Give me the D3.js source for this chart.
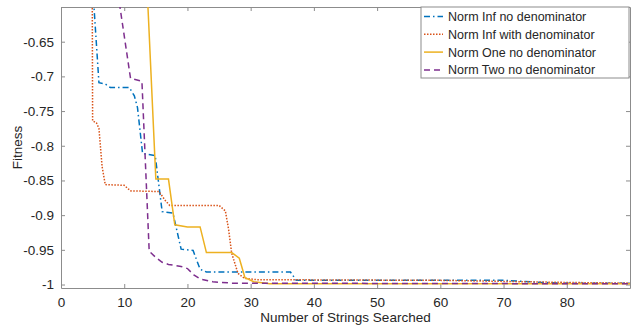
<!DOCTYPE html>
<html>
<head>
<meta charset="utf-8">
<script src="https://cdn.jsdelivr.net/npm/d3@7"></script>
<style>
  body { margin: 0; background: #fff; }
  text { font-family: "Liberation Sans", Arial, sans-serif; fill: #262626; }
</style>
</head>
<body>
<div id="chart"></div>
<script>
// series, each one [strings searched, fitness]
const normInfNoDen = [[5, -0.57], [6, -0.709], [7, -0.711], [7.8, -0.716], [10.8, -0.716], [11.6, -0.728], [12.1, -0.745],
  [12.9, -0.811], [14.9, -0.814], [16, -0.895], [17.7, -0.897], [19, -0.949], [20.9, -0.951], [22, -0.978], [23, -0.982],
  [36.3, -0.982], [37.2, -0.994], [70, -0.994], [76, -0.997], [80, -0.998], [90, -0.998]];
const normInfWithDen = [[4.9, -0.45], [5, -0.764], [5.6, -0.767], [6, -0.775], [6.5, -0.83], [7, -0.856], [10, -0.857],
  [11, -0.865], [15.5, -0.866], [16.5, -0.879], [17.2, -0.886], [25, -0.886], [26, -0.894], [26.5, -0.92], [27, -0.955],
  [28, -0.984], [29, -0.991], [31, -0.993], [60, -0.994], [80, -0.997], [90, -0.998]];
const normOneNoDen = [[13, -0.45], [15, -0.848], [17, -0.848], [18, -0.914], [20, -0.917], [22, -0.917], [23, -0.954],
  [27, -0.954], [28.2, -0.962], [29.1, -0.99], [30.5, -0.996], [33, -0.999], [90, -0.999]];
const normTwoNoDen = [[9, -0.58], [11, -0.703], [12.8, -0.707], [13.95, -0.952], [15, -0.961], [16, -0.968], [17, -0.971],
  [19, -0.974], [20, -0.977], [21, -0.986], [22, -0.992], [24, -0.996], [27, -0.998], [90, -0.999]];

const seriesNames = ["Norm Inf no denominator", "Norm Inf with denominator", "Norm One no denominator", "Norm Two no denominator"];
const seriesColors = ["#0072BD", "#D95319", "#EDB120", "#7E2F8E"];
const seriesDash = ["6,3,1.5,3", "1.5,1.5", null, "6,4"];
const allSeries = [normInfNoDen, normInfWithDen, normOneNoDen, normTwoNoDen];

const xTicks = [0, 10, 20, 30, 40, 50, 60, 70, 80];
const yTicks = [-1, -0.95, -0.9, -0.85, -0.8, -0.75, -0.7, -0.65];

const width = 632, height = 329;
const margin = {top: 7, right: 2, bottom: 41, left: 61};
const iw = width - margin.left - margin.right;
const ih = height - margin.top - margin.bottom;

const svg = d3.select('#chart').append('svg')
    .attr('width', width)
    .attr('height', height);

const g = svg.append('g').attr('transform', `translate(${margin.left},${margin.top})`);

const x = d3.scaleLinear().domain([0, 90]).range([0, iw]);
const y = d3.scaleLinear().domain([-1.005, -0.6]).range([ih, 0]);

svg.append('defs').append('clipPath').attr('id', 'clip')
  .append('rect').attr('width', iw).attr('height', ih);

const fmt = d => String(d);

// axes, ticks inward like matlab
const axB = g.append('g').attr('transform', `translate(0,${ih})`)
  .call(d3.axisBottom(x).tickValues(xTicks).tickFormat(fmt).tickSizeInner(-4).tickSizeOuter(0).tickPadding(9));
const axT = g.append('g')
  .call(d3.axisTop(x).tickValues(xTicks).tickFormat('').tickSizeInner(-4).tickSizeOuter(0));
const axL = g.append('g')
  .call(d3.axisLeft(y).tickValues(yTicks).tickFormat(fmt).tickSizeInner(-4).tickSizeOuter(0).tickPadding(7));
const axR = g.append('g').attr('transform', `translate(${iw},0)`)
  .call(d3.axisRight(y).tickValues(yTicks).tickFormat('').tickSizeInner(-4).tickSizeOuter(0));

[axB, axT, axL, axR].forEach(a => {
  a.select('.domain').attr('stroke', '#8c8c8c');
  a.selectAll('.tick line').attr('stroke', '#8c8c8c');
  a.selectAll('text').style('font-size', '13.5px').attr('fill', '#262626')
    .style('font-family', '"Liberation Sans", Arial, sans-serif');
});

const line = d3.line().x(d => x(d[0])).y(d => y(d[1]));

g.append('g').attr('clip-path', 'url(#clip)')
  .selectAll('path').data(allSeries).join('path')
    .attr('d', line)
    .attr('fill', 'none')
    .attr('stroke', (d, i) => seriesColors[i])
    .attr('stroke-width', 1.5)
    .attr('stroke-dasharray', (d, i) => seriesDash[i]);

// axis labels
svg.append('text')
  .attr('x', margin.left + iw / 2).attr('y', 322)
  .attr('text-anchor', 'middle')
  .style('font-size', '13.5px')
  .text('Number of Strings Searched');

svg.append('text')
  .attr('transform', `translate(22,${margin.top + ih / 2}) rotate(-90)`)
  .attr('text-anchor', 'middle')
  .style('font-size', '13.5px')
  .text('Fitness');

// legend
const lg = svg.append('g').attr('transform', 'translate(421,7)');
lg.append('rect').attr('width', 208).attr('height', 71)
  .attr('fill', '#fff').attr('stroke', '#8c8c8c');
seriesNames.forEach((name, i) => {
  const ly = 9.5 + i * 17.8;
  lg.append('line').attr('x1', 3).attr('x2', 22).attr('y1', ly).attr('y2', ly)
    .attr('stroke', seriesColors[i]).attr('stroke-width', 1.5)
    .attr('stroke-dasharray', seriesDash[i]);
  lg.append('text').attr('x', 27).attr('y', ly + 4.5)
    .style('font-size', '12.5px')
    .text(name);
});
</script>
</body>
</html>
